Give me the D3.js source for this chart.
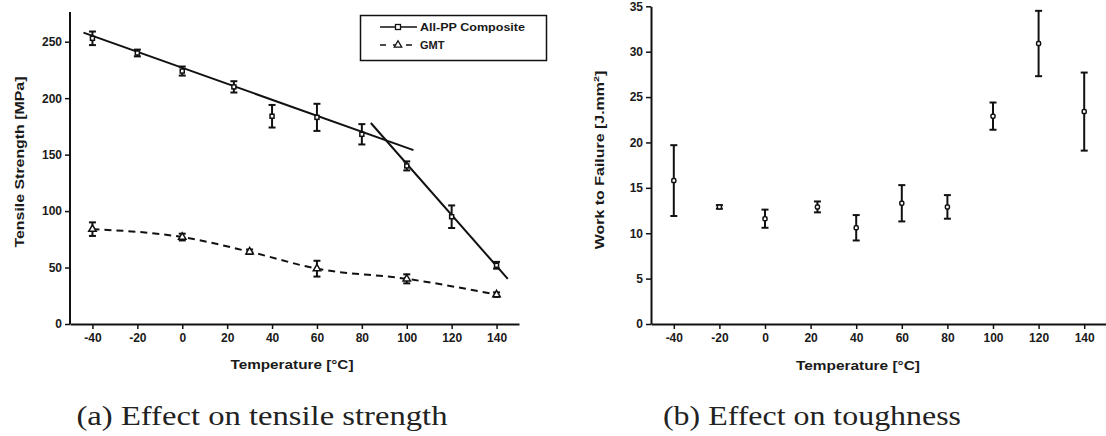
<!DOCTYPE html>
<html><head><meta charset="utf-8">
<script src="https://cdn.jsdelivr.net/npm/d3@7"></script>
<style>
body{margin:0;background:#fff;}
svg{display:block;}
.ax text{font-family:"Liberation Sans",Arial,sans-serif;font-size:12px;font-weight:bold;fill:#1a1a1a;}
</style></head><body>
<svg id="c" width="1106" height="436"></svg>
<script>
// ---- data ----
const xTicks = [-40,-20,0,20,40,60,80,100,120,140];
const ppTemp = [-40,-20,0,23,40,60,80,100,120,140];
const ppStrength = [253,240,224,210,184,183,168,140,95,52];
const ppStrengthErr = [6,3,4,5,10,12,9,4,10,3];
const gmtTemp = [-40,0,30,60,100,140];
const gmtStrength = [84,77,64,49,40,26];
const gmtStrengthErr = [6,3,2,7,4,2];
const fit1Temp = [-44,103];
const fit1Val = [258,154];
const fit2Temp = [84,145];
const fit2Val = [178,40];
const yTicksA = [0,50,100,150,200,250];
const toughTemp = [-40,-20,0,23,40,60,80,100,120,140];
const toughVal = [15.8,12.9,11.6,12.9,10.6,13.3,12.9,22.9,30.9,23.4];
const toughErr = [3.9,0.2,1.0,0.6,1.4,2.0,1.3,1.5,3.6,4.3];
const yTicksB = [0,5,10,15,20,25,30,35];

const svg = d3.select("#c");
const ink = "#111";
const sans = "Liberation Sans,Arial,sans-serif";
const fmt = d => String(d);

function label(g, x, y, txt, len, opts={}){
  const t = g.append("text").attr("x",x).attr("y",y).attr("text-anchor","middle")
    .attr("font-family",opts.family||sans).attr("font-size",opts.size||12)
    .attr("font-weight",opts.weight||"bold").attr("fill",opts.fill||"#1a1a1a")
    .attr("textLength",len).attr("lengthAdjust","spacingAndGlyphs").text(txt);
  if(opts.rotate) t.attr("transform",`rotate(-90,${x},${y})`);
  return t;
}

// ---- panel (a) ----
const xa = d3.scaleLinear().domain([-50,150]).range([70,519]);
const ya = d3.scaleLinear().domain([0,250]).range([324,41.7]);
const ga = svg.append("g");

ga.append("g").attr("class","ax").attr("transform","translate(0,324)")
  .call(d3.axisBottom(xa).tickValues(xTicks).tickFormat(fmt).tickSize(5).tickPadding(4).tickSizeOuter(0))
  .call(g=>g.select(".domain").attr("stroke",ink).attr("stroke-width",2));
ga.append("g").attr("class","ax").attr("transform","translate(70,0)")
  .call(d3.axisLeft(ya).tickValues(yTicksA).tickFormat(fmt).tickSize(5).tickPadding(3).tickSizeOuter(0))
  .call(g=>g.select(".domain").attr("stroke",ink).attr("stroke-width",2).attr("d","M0,324V12"));
ga.selectAll(".tick line").attr("stroke",ink).attr("stroke-width",1.5);

label(ga, 292, 369, "Temperature [\u00B0C]", 123);
label(ga, 24, 162, "Tensile Strength [MPa]", 171, {rotate:true});

// fit lines
const lineA = d3.line().x(d=>xa(d[0])).y(d=>ya(d[1]));
ga.append("path").datum(d3.zip(fit1Temp,fit1Val)).attr("d",lineA).attr("stroke",ink).attr("stroke-width",2).attr("fill","none");
ga.append("path").datum(d3.zip(fit2Temp,fit2Val)).attr("d",lineA).attr("stroke",ink).attr("stroke-width",2).attr("fill","none");
// GMT dashed
ga.append("path").datum(d3.zip(gmtTemp,gmtStrength)).attr("d",d3.line().x(d=>xa(d[0])).y(d=>ya(d[1])).curve(d3.curveMonotoneX))
  .attr("stroke",ink).attr("stroke-width",2).attr("fill","none").attr("stroke-dasharray","7,5");

function errBars(g, xs, ys, es, xS, yS, cap){
  xs.forEach((t,i)=>{
    const x = xS(t), y1 = yS(ys[i]+es[i]), y2 = yS(ys[i]-es[i]);
    g.append("line").attr("x1",x).attr("x2",x).attr("y1",y1).attr("y2",y2).attr("stroke",ink).attr("stroke-width",2);
    [y1,y2].forEach(y=>g.append("line").attr("x1",x-cap).attr("x2",x+cap).attr("y1",y).attr("y2",y).attr("stroke",ink).attr("stroke-width",2));
  });
}
errBars(ga, ppTemp, ppStrength, ppStrengthErr, xa, ya, 3.5);
errBars(ga, gmtTemp, gmtStrength, gmtStrengthErr, xa, ya, 3.5);
ppTemp.forEach((t,i)=>ga.append("rect").attr("x",xa(t)-2).attr("y",ya(ppStrength[i])-2).attr("width",4).attr("height",4)
  .attr("fill","#fff").attr("stroke",ink).attr("stroke-width",1.5));
const tri = d3.symbol().type(d3.symbolTriangle).size(24);
gmtTemp.forEach((t,i)=>ga.append("path").attr("d",tri()).attr("transform",`translate(${xa(t)},${ya(gmtStrength[i])})`)
  .attr("fill","#fff").attr("stroke",ink).attr("stroke-width",1.5));

// legend
const lg = ga.append("g");
lg.append("rect").attr("x",360.5).attr("y",15.5).attr("width",186).attr("height",45).attr("fill","#fff").attr("stroke",ink).attr("stroke-width",1.5);
lg.append("line").attr("x1",380).attr("x2",417).attr("y1",27).attr("y2",27).attr("stroke",ink).attr("stroke-width",1.5);
lg.append("rect").attr("x",395.5).attr("y",24.5).attr("width",5).attr("height",5).attr("fill","#fff").attr("stroke",ink).attr("stroke-width",1.3);
lg.append("line").attr("x1",380).attr("x2",417).attr("y1",45).attr("y2",45).attr("stroke",ink).attr("stroke-width",1.5).attr("stroke-dasharray","6,7");
lg.append("path").attr("d",tri()).attr("transform","translate(398,45)").attr("fill","#fff").attr("stroke",ink).attr("stroke-width",1.3);
lg.append("text").attr("x",420).attr("y",31).attr("font-family",sans).attr("font-size",11).attr("font-weight","bold").attr("fill","#1a1a1a")
  .attr("textLength",105).attr("lengthAdjust","spacingAndGlyphs").text("All-PP Composite");
lg.append("text").attr("x",420).attr("y",49).attr("font-family",sans).attr("font-size",11).attr("font-weight","bold").attr("fill","#1a1a1a").text("GMT");

// caption
label(svg, 262, 425, "(a) Effect on tensile strength", 371, {family:"Liberation Serif, DejaVu Serif, serif", size:27, weight:"normal", fill:"#222"});

// ---- panel (b) ----
const xb = d3.scaleLinear().domain([-50,150]).range([651,1107]);
const yb = d3.scaleLinear().domain([0,35]).range([324,6.3]);
const gb = svg.append("g");
gb.append("g").attr("class","ax").attr("transform","translate(0,324)")
  .call(d3.axisBottom(xb).tickValues(xTicks).tickFormat(fmt).tickSize(5).tickPadding(4).tickSizeOuter(0))
  .call(g=>g.select(".domain").attr("stroke",ink).attr("stroke-width",2));
gb.append("g").attr("class","ax").attr("transform","translate(651,0)")
  .call(d3.axisLeft(yb).tickValues(yTicksB).tickFormat(fmt).tickSize(5).tickPadding(3).tickSizeOuter(0))
  .call(g=>g.select(".domain").attr("stroke",ink).attr("stroke-width",2));
gb.selectAll(".tick line").attr("stroke",ink).attr("stroke-width",1.5);

label(gb, 858, 370, "Temperature [\u00B0C]", 124);
const yl = gb.append("text").attr("x",0).attr("y",0).attr("transform","translate(604,160) rotate(-90) scale(1.33,1)").attr("text-anchor","middle")
  .attr("font-family",sans).attr("font-size",12).attr("font-weight","bold").attr("fill","#1a1a1a");
yl.append("tspan").text("Work to Failure [J.mm");
yl.append("tspan").attr("dy",-5).attr("font-size",8).text("2");
yl.append("tspan").attr("dy",5).text("]");

errBars(gb, toughTemp, toughVal, toughErr, xb, yb, 3.5);
toughTemp.forEach((t,i)=>gb.append("rect").attr("x",xb(t)-2).attr("y",yb(toughVal[i])-2).attr("width",4).attr("height",4)
  .attr("rx",1.2).attr("fill","#fff").attr("stroke",ink).attr("stroke-width",1.5));

label(svg, 812, 425, "(b) Effect on toughness", 298, {family:"Liberation Serif, DejaVu Serif, serif", size:27, weight:"normal", fill:"#222"});
</script>
</body></html>
